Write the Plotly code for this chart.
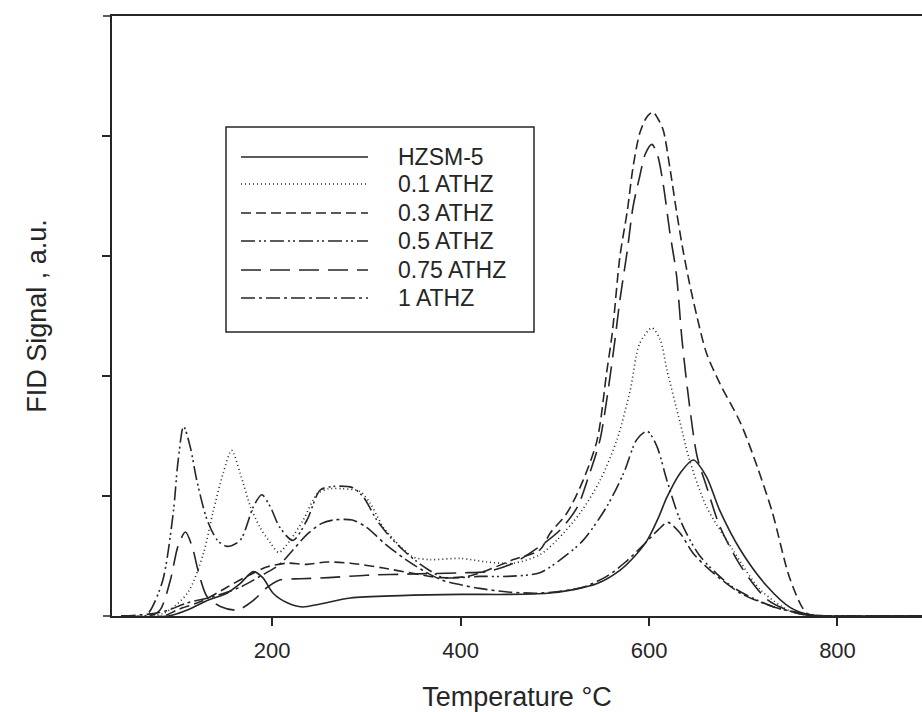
import plotly.graph_objects as go

# ---------------- data ----------------
t_hzsm = [40, 90, 110, 131, 152, 166, 180, 190, 201, 216, 232, 251, 283, 336, 400, 450, 492, 520, 545, 569, 585, 598, 610, 619, 633, 647, 661, 675, 697, 725, 750, 771, 800, 850, 890]
v_hzsm = [0, 0, 0.05, 0.13, 0.19, 0.27, 0.37, 0.32, 0.19, 0.11, 0.075, 0.1, 0.15, 0.17, 0.18, 0.18, 0.19, 0.22, 0.27, 0.38, 0.5, 0.63, 0.82, 0.99, 1.19, 1.30, 1.16, 0.88, 0.55, 0.25, 0.07, 0.01, 0, 0, 0]

t_01 = [40, 84, 110, 127, 137, 148, 157, 166, 177, 187, 198, 207, 219, 233, 248, 260, 275, 293, 304, 318, 336, 350, 368, 400, 428, 456, 484, 502, 527, 548, 566, 580, 590, 603, 612, 619, 633, 643, 661, 689, 718, 750, 775, 800, 890]
v_01 = [0, 0.02, 0.19, 0.52, 0.86, 1.19, 1.38, 1.19, 0.91, 0.74, 0.61, 0.53, 0.63, 0.8, 1.02, 1.06, 1.06, 1.04, 0.94, 0.74, 0.58, 0.49, 0.47, 0.48, 0.45, 0.44, 0.51, 0.63, 0.86, 1.13, 1.47, 1.88, 2.27, 2.40, 2.3, 2.05, 1.61, 1.3, 0.91, 0.55, 0.22, 0.04, 0, 0, 0]

t_03 = [40, 85, 99, 127, 152, 173, 195, 216, 237, 258, 283, 318, 346, 378, 407, 428, 456, 484, 495, 513, 530, 545, 555, 561, 569, 577, 583, 590, 597, 604, 609, 615, 622, 629, 636, 643, 651, 661, 675, 697, 715, 731, 750, 768, 790, 890]
v_03 = [0, 0, 0.05, 0.13, 0.24, 0.33, 0.41, 0.44, 0.43, 0.45, 0.44, 0.4, 0.36, 0.32, 0.33, 0.38, 0.47, 0.55, 0.69, 0.86, 1.13, 1.47, 2.03, 2.36, 2.99, 3.38, 3.74, 4.02, 4.15, 4.2, 4.15, 4.05, 3.74, 3.38, 3.05, 2.77, 2.49, 2.19, 1.94, 1.61, 1.24, 0.86, 0.30, 0.02, 0, 0]

t_05 = [40, 65, 71, 84, 95, 100, 106, 113, 120, 131, 142, 152, 166, 180, 189, 198, 208, 222, 237, 251, 265, 285, 297, 311, 325, 339, 354, 371, 381, 400, 420, 450, 484, 506, 530, 555, 573, 587, 598, 608, 619, 633, 654, 689, 731, 770, 800, 890]
v_05 = [0, 0, 0.05, 0.3, 0.86, 1.28, 1.58, 1.41, 1.13, 0.8, 0.63, 0.58, 0.63, 0.91, 1.01, 0.91, 0.74, 0.63, 0.8, 1.05, 1.08, 1.07, 0.99, 0.8, 0.66, 0.55, 0.45, 0.36, 0.32, 0.32, 0.33, 0.33, 0.36, 0.47, 0.63, 0.91, 1.19, 1.47, 1.54, 1.42, 1.13, 0.8, 0.5, 0.24, 0.08, 0.01, 0, 0]

t_075 = [40, 70, 81, 92, 100, 108, 115, 122, 131, 145, 163, 180, 195, 208, 230, 260, 300, 350, 400, 428, 456, 484, 506, 524, 537, 548, 562, 569, 577, 583, 590, 596, 603, 609, 615, 622, 629, 635, 643, 651, 661, 675, 697, 725, 750, 775, 890]
v_075 = [0, 0, 0.05, 0.3, 0.58, 0.70, 0.58, 0.36, 0.16, 0.08, 0.05, 0.13, 0.24, 0.3, 0.31, 0.32, 0.34, 0.35, 0.36, 0.37, 0.44, 0.58, 0.72, 0.91, 1.19, 1.47, 2.19, 2.63, 3.05, 3.41, 3.66, 3.85, 3.93, 3.84, 3.6, 3.2, 2.85, 2.3, 1.75, 1.33, 1.08, 0.75, 0.42, 0.14, 0.04, 0, 0]

t_1 = [40, 74, 90, 110, 137, 166, 187, 208, 222, 237, 252, 265, 285, 300, 320, 340, 360, 380, 400, 420, 450, 480, 500, 530, 555, 575, 595, 610, 620, 633, 647, 668, 697, 731, 770, 800, 890]
v_1 = [0, 0.02, 0.05, 0.11, 0.16, 0.24, 0.33, 0.43, 0.55, 0.68, 0.77, 0.8, 0.8, 0.74, 0.6, 0.48, 0.38, 0.3, 0.26, 0.23, 0.2, 0.19, 0.2, 0.24, 0.33, 0.45, 0.6, 0.72, 0.78, 0.69, 0.52, 0.36, 0.19, 0.08, 0.01, 0, 0]

names = ["HZSM-5", "0.1 ATHZ", "0.3 ATHZ", "0.5 ATHZ", "0.75 ATHZ", "1 ATHZ"]
xs = [t_hzsm, t_01, t_03, t_05, t_075, t_1]
ys = [v_hzsm, v_01, v_03, v_05, v_075, v_1]
dashes = ["solid", "1px,3px", "10px,5px", "14px,4px,2px,3px,2px,4px", "20px,9px", "14px,4px,3px,4px"]

x_ticks = [200, 400, 600, 800]
x_tick_text = ["200", "400", "600", "800"]
y_ticks = [1, 2, 3, 4]

INK = "#262626"
FONT = "Liberation Sans, Arial, sans-serif"

fig = go.Figure()
for name, x, y, d in zip(names, xs, ys, dashes):
    fig.add_trace(go.Scatter(
        x=x, y=y, mode="lines", name=name, showlegend=False,
        line=dict(color=INK, width=1.6, dash=d, shape="spline", smoothing=0.8),
    ))

# ---------------- legend box (drawn like the original) ----------------
W, H = 922, 712
L, R, T, B = 112, 0, 16, 96
pw, ph = W - L - R, H - T - B

def px(xp):
    return (xp - L) / pw

def py(yp):
    return (H - B - yp) / ph

shapes = [dict(type="rect", xref="paper", yref="paper",
               x0=px(226), x1=px(534), y0=py(332), y1=py(127),
               line=dict(color=INK, width=1.5), fillcolor="white", layer="above")]
# axis lines overshoot slightly to the left of the y axis, as in the original
for yy in (0, 1):
    shapes.append(dict(type="line", xref="paper", yref="paper",
                       x0=px(103), x1=0, y0=yy, y1=yy,
                       line=dict(color=INK, width=1.5)))
annotations = []
row_y = [157, 184, 213, 241, 270, 298]
for name, d, ry in zip(names, dashes, row_y):
    shapes.append(dict(type="line", xref="paper", yref="paper",
                       x0=px(241), x1=px(368), y0=py(ry), y1=py(ry),
                       line=dict(color=INK, width=1.5, dash=d), layer="above"))
    annotations.append(dict(xref="paper", yref="paper", x=px(396), y=py(ry),
                            text=name, showarrow=False, xanchor="left", yanchor="middle",
                            font=dict(family=FONT, size=23, color=INK)))

fig.update_layout(
    width=W, height=H,
    margin=dict(l=L, r=R, t=T, b=B),
    paper_bgcolor="white", plot_bgcolor="white",
    font=dict(family=FONT, color=INK),
    shapes=shapes, annotations=annotations,
    showlegend=False,
)
fig.update_xaxes(
    range=[30, 889.7], tickvals=x_ticks, ticktext=x_tick_text,
    ticks="outside", ticklen=8, tickwidth=1.5, tickcolor=INK,
    showline=True, linecolor=INK, linewidth=1.5, mirror=True,
    showgrid=False, zeroline=False,
    tickfont=dict(family=FONT, size=22, color=INK), ticklabelstandoff=6,
    title=dict(text="Temperature °C", font=dict(family=FONT, size=27, color=INK), standoff=25),
    automargin=False,
)
fig.update_yaxes(
    range=[0, 5], tickvals=y_ticks, showticklabels=False,
    ticks="outside", ticklen=8, tickwidth=1.5, tickcolor=INK,
    showline=True, linecolor=INK, linewidth=1.5, mirror=False,
    showgrid=False, zeroline=False,
    title=dict(text="FID Signal , a.u.", font=dict(family=FONT, size=27, color=INK), standoff=48),
    automargin=False,
)

fig.write_html("out.html")
